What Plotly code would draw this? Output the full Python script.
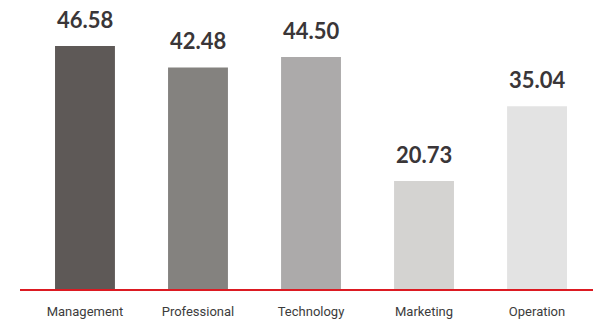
import plotly.graph_objects as go

# job categories and their values (as printed above each bar)
categories = ["Management", "Professional", "Technology", "Marketing", "Operation"]
values = [46.58, 42.48, 44.50, 20.73, 35.04]
labels = ["46.58", "42.48", "44.50", "20.73", "35.04"]

# grey ramp, darkest on the left
bar_colors = ["#5e5957", "#84827f", "#acaaaa", "#d4d3d1", "#e3e3e3"]

fig = go.Figure(
    go.Bar(
        x=categories,
        y=values,
        marker=dict(color=bar_colors, line=dict(width=0)),
        width=0.53,
        hoverinfo="x+y",
    )
)

# value labels above bars
for cat, val, lab in zip(categories, values, labels):
    fig.add_annotation(
        x=cat,
        y=val,
        text="<b>" + lab + "</b>",
        showarrow=False,
        yanchor="bottom",
        yshift=12,
        borderpad=0,
        font=dict(family="Lato, Open Sans, sans-serif", size=22, color="#3a3638"),
    )

# page body keeps its default 8px margin, so the figure is a bit smaller
fig.update_layout(
    width=593,
    height=317,
    margin=dict(l=12, r=0, t=2, b=36),
    plot_bgcolor="white",
    paper_bgcolor="white",
    showlegend=False,
)

fig.update_xaxes(
    range=[-0.575, 4.566],
    showline=True,
    linecolor="#dc1a22",
    linewidth=1.5,
    showgrid=False,
    ticks="",
    ticklabelstandoff=10,
    tickfont=dict(family="Roboto, sans-serif", size=13, color="#3c3c3c"),
)

fig.update_yaxes(
    range=[0, 53.5],
    visible=False,
    showgrid=False,
    zeroline=False,
)

fig.write_html("out.html")
